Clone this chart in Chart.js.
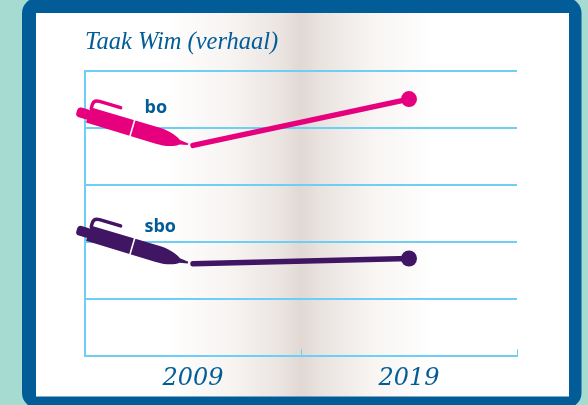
<!DOCTYPE html>
<html><head><meta charset="utf-8">
<style>html,body{margin:0;padding:0;background:#a5dbd0}canvas{display:block}</style>
<script src="https://cdn.jsdelivr.net/npm/chart.js@4"></script>
</head><body><canvas id="c" width="588" height="405"></canvas>
<script>
const years = ['2009', '2019'];
const boValues = [3.69, 4.5];
const sboValues = [1.62, 1.71];
const seriesNames = ['bo', 'sbo'];
const titleText = 'Taak Wim (verhaal)';
const PINK = '#e6007e', PURPLE = '#3f1564', BLUE = '#025c97', SKY = '#6dcff6';

function penPath(ctx, color) {
  ctx.fillStyle = color; ctx.strokeStyle = color;
  ctx.beginPath();
  ctx.moveTo(0, 0.8); ctx.lineTo(-8, 2.5);
  ctx.bezierCurveTo(-13, 6.5, -22, 8.8, -32, 8.6);
  ctx.lineTo(-104, 8); ctx.lineTo(-104, -8); ctx.lineTo(-30, -8);
  ctx.bezierCurveTo(-20, -7.5, -13, -4.5, -9, -2); ctx.lineTo(0, -1);
  ctx.closePath(); ctx.fill();
  ctx.beginPath(); ctx.roundRect(-116, -5, 14, 10, 3.5); ctx.fill();
  ctx.lineWidth = 3.4; ctx.lineCap = 'round'; ctx.lineJoin = 'round';
  ctx.beginPath(); ctx.moveTo(-103, -7); ctx.lineTo(-103, -11);
  ctx.quadraticCurveTo(-103, -16, -97, -16); ctx.lineTo(-75, -16); ctx.stroke();
  ctx.strokeStyle = '#fff'; ctx.lineWidth = 1.6; ctx.lineCap = 'butt';
  ctx.beginPath(); ctx.moveTo(-58, -9); ctx.lineTo(-58, 9); ctx.stroke();
}

const decor = {
  id: 'decor',
  beforeDraw(chart) {
    const ctx = chart.ctx;
    ctx.save();
    ctx.fillStyle = '#a5dbd0'; ctx.fillRect(0, 0, 588, 405);
    ctx.fillStyle = BLUE;
    ctx.beginPath(); ctx.roundRect(22, -2, 559.5, 410, 15); ctx.fill();
    const g = ctx.createLinearGradient(36, 0, 569, 0);
    const f = x => (x - 36) / 533;
    g.addColorStop(f(165), '#ffffff');
    g.addColorStop(f(230), '#f7f4f2');
    g.addColorStop(f(280), '#ebe5e2');
    g.addColorStop(f(301), '#e2d8d4');
    g.addColorStop(f(325), '#ebe5e2');
    g.addColorStop(f(375), '#f8f5f3');
    g.addColorStop(f(435), '#ffffff');
    ctx.fillStyle = g;
    ctx.fillRect(36, 13, 533, 383.5);
    ctx.restore();
  },
  afterDatasetsDraw(chart) {
    const ctx = chart.ctx, x = chart.scales.x, area = chart.chartArea;
    ctx.save();
    ctx.strokeStyle = SKY; ctx.lineWidth = 1;
    const c0 = x.getPixelForValue(0), c1 = x.getPixelForValue(1);
    [(c0 + c1) / 2, area.right].forEach(px => {
      ctx.beginPath(); ctx.moveTo(Math.round(px) + .5, area.bottom);
      ctx.lineTo(Math.round(px) + .5, area.bottom - 7); ctx.stroke();
    });
    chart.data.datasets.forEach((ds, i) => {
      const p = chart.getDatasetMeta(i).data[0];
      ctx.save();
      ctx.translate(p.x - 5, p.y - 1);
      ctx.rotate(16.5 * Math.PI / 180);
      penPath(ctx, ds.borderColor);
      ctx.restore();
      ctx.fillStyle = BLUE;
      ctx.font = 'bold 18px "Open Sans"';
      ctx.textBaseline = 'middle'; ctx.textAlign = 'left';
      ctx.fillText(seriesNames[i], p.x - 48.5, p.y - 37);
    });
    ctx.restore();
  }
};

new Chart(document.getElementById('c'), {
  type: 'line',
  data: {
    labels: years,
    datasets: [
      { label: seriesNames[0], data: boValues, borderColor: PINK, backgroundColor: PINK,
        borderWidth: 5.5, borderCapStyle: 'round', pointRadius: [0, 8], pointBorderWidth: 0, tension: 0 },
      { label: seriesNames[1], data: sboValues, borderColor: PURPLE, backgroundColor: PURPLE,
        borderWidth: 5.5, borderCapStyle: 'round', pointRadius: [0, 8], pointBorderWidth: 0, tension: 0 }
    ]
  },
  options: {
    responsive: false, animation: false,
    layout: { padding: { left: 85, right: 71, top: 28, bottom: 12 } },
    plugins: {
      legend: { display: false }, tooltip: { enabled: false },
      title: { display: true, text: titleText, align: 'start', fullSize: false, color: BLUE,
        font: { family: '"Liberation Serif"', style: 'italic', size: 24.5, weight: 'normal' },
        padding: { top: 0, bottom: 13.1 } }
    },
    scales: {
      x: { offset: true, grid: { display: false },
        border: { display: true, color: SKY, width: 2 },
        ticks: { color: BLUE, padding: 0, maxRotation: 0,
          font: { family: '"DejaVu Serif"', style: 'italic', size: 24 } } },
      y: { min: 0, max: 5, grid: { color: SKY, lineWidth: 2, drawTicks: false },
        border: { display: true, color: SKY, width: 2 },
        ticks: { display: false, stepSize: 1 } }
    }
  },
  plugins: [decor]
});
</script></body></html>
